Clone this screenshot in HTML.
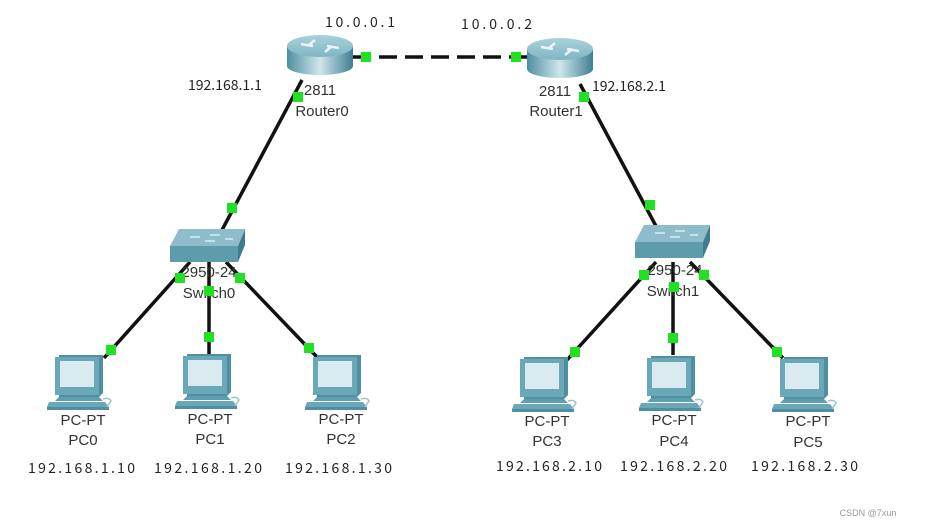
<!DOCTYPE html>
<html><head><meta charset="utf-8"><style>
html,body{margin:0;padding:0;background:#fff;}
svg{display:block;}
.ip{font-family:"Noto Sans CJK SC","WenQuanYi Zen Hei",sans-serif;font-size:14px;fill:#222;}
.lb{font-family:"Liberation Sans",sans-serif;font-size:15px;fill:#333;}
</style></head><body>
<svg width="930" height="528" viewBox="0 0 930 528" xmlns="http://www.w3.org/2000/svg">
<defs>
<linearGradient id="rg" x1="0" x2="1" y1="0" y2="0">
<stop offset="0" stop-color="#4f8fa0"/><stop offset="0.5" stop-color="#cfe6ec"/><stop offset="1" stop-color="#3f7f92"/></linearGradient>
<linearGradient id="rt" x1="0" x2="0" y1="0" y2="1">
<stop offset="0" stop-color="#a9d2dc"/><stop offset="1" stop-color="#7fb5c4"/></linearGradient>
<g id="router">
<rect x="0" y="11" width="66" height="20" fill="url(#rg)"/>
<ellipse cx="33" cy="31" rx="33" ry="9" fill="url(#rg)"/>
<ellipse cx="33" cy="11" rx="33" ry="11" fill="url(#rt)"/>
<path d="M14 9 l12 2 M52 13 l-12 -2 M28 5 l-6 5 M38 17 l6 -5" stroke="#e8f4f7" stroke-width="2.5" fill="none"/>
</g>
<g id="switch">
<polygon points="9,0 75,0 68,17 0,17" fill="#8fbccb"/>
<rect x="0" y="17" width="68" height="16" fill="#5e9bab"/>
<polygon points="68,17 75,0 75,16 68,33" fill="#3f7d8e"/>
<path d="M20 8 h10 M40 6 h10 M35 12 h10 M55 10 h8" stroke="#d8eef3" stroke-width="1.5"/>
</g>
<g id="pc">
<polygon points="4,0 48,0 48,38 44,42 4,42" fill="#4e8fa2"/>
<rect x="0" y="2" width="44" height="38" fill="#6aa7b7"/>
<rect x="5" y="6" width="34" height="26" fill="#d9ebf0"/>
<polygon points="4,42 44,42 48,46 0,46" fill="#5f9eb0"/>
<polygon points="-6,47 50,47 54,52 -8,52" fill="#6aa7b7"/>
<rect x="-8" y="52" width="62" height="3" fill="#4e8fa2"/>
<path d="M48 44 q6 -2 8 2 l-4 6" stroke="#9cc4cf" stroke-width="1.5" fill="none"/>
</g>
</defs>

<g stroke="#111" stroke-width="3.5">
<line x1="353" y1="57" x2="528" y2="57" stroke-dasharray="18,8"/>
<line x1="302" y1="80" x2="222" y2="230"/>
<line x1="580" y1="84" x2="657" y2="228"/>
<line x1="190" y1="262" x2="104" y2="358"/>
<line x1="209" y1="262" x2="209" y2="355"/>
<line x1="226" y1="262" x2="317" y2="357"/>
<line x1="656" y1="262" x2="567" y2="360"/>
<line x1="673" y1="262" x2="673" y2="355"/>
<line x1="690" y1="262" x2="783" y2="358"/>
</g>

<use href="#router" x="287" y="35"/>
<use href="#router" x="527" y="38"/>
<use href="#switch" x="170" y="229"/>
<use href="#switch" x="635" y="225"/>
<use href="#pc" x="55" y="355"/>
<use href="#pc" x="183" y="354"/>
<use href="#pc" x="313" y="355"/>
<use href="#pc" x="520" y="357"/>
<use href="#pc" x="647" y="356"/>
<use href="#pc" x="780" y="357"/>

<g class="lb" text-anchor="middle">
<text x="320" y="95">2811</text><text x="322" y="116">Router0</text>
<text x="555" y="96">2811</text><text x="556" y="116">Router1</text>
<text x="209" y="277">2950-24</text><text x="209" y="298">Switch0</text>
<text x="675" y="275">2950-24</text><text x="673" y="296">Switch1</text>
<text x="83" y="425">PC-PT</text><text x="83" y="445">PC0</text>
<text x="210" y="424">PC-PT</text><text x="210" y="444">PC1</text>
<text x="341" y="424">PC-PT</text><text x="341" y="444">PC2</text>
<text x="547" y="426">PC-PT</text><text x="547" y="446">PC3</text>
<text x="674" y="425">PC-PT</text><text x="674" y="446">PC4</text>
<text x="808" y="426">PC-PT</text><text x="808" y="447">PC5</text>
</g>

<g class="ip">
<text x="325" y="27" textLength="70" lengthAdjust="spacing">10.0.0.1</text>
<text x="461" y="29" textLength="71" lengthAdjust="spacing">10.0.0.2</text>
<text x="188" y="90">192.168.1.1</text>
<text x="592" y="91">192.168.2.1</text>
<text x="28" y="473" textLength="107" lengthAdjust="spacing">192.168.1.10</text>
<text x="154" y="473" textLength="108" lengthAdjust="spacing">192.168.1.20</text>
<text x="285" y="473" textLength="107" lengthAdjust="spacing">192.168.1.30</text>
<text x="496" y="471" textLength="106" lengthAdjust="spacing">192.168.2.10</text>
<text x="620" y="471" textLength="107" lengthAdjust="spacing">192.168.2.20</text>
<text x="751" y="471" textLength="107" lengthAdjust="spacing">192.168.2.30</text>
</g>

<g fill="#22e022">
<rect x="361" y="52" width="10" height="10"/>
<rect x="511" y="52" width="10" height="10"/>
<rect x="293" y="92" width="10" height="10"/>
<rect x="227" y="203" width="10" height="10"/>
<rect x="579" y="92" width="10" height="10"/>
<rect x="645" y="200" width="10" height="10"/>
<rect x="175" y="273" width="10" height="10"/>
<rect x="204" y="286" width="10" height="10"/>
<rect x="235" y="273" width="10" height="10"/>
<rect x="106" y="345" width="10" height="10"/>
<rect x="204" y="332" width="10" height="10"/>
<rect x="304" y="343" width="10" height="10"/>
<rect x="639" y="270" width="10" height="10"/>
<rect x="669" y="282" width="10" height="10"/>
<rect x="699" y="270" width="10" height="10"/>
<rect x="570" y="347" width="10" height="10"/>
<rect x="668" y="333" width="10" height="10"/>
<rect x="772" y="347" width="10" height="10"/>
</g>

<text x="868" y="516" font-family="Liberation Sans,sans-serif" font-size="9" fill="#999" text-anchor="middle">CSDN @7xun</text>
</svg>
</body></html>
